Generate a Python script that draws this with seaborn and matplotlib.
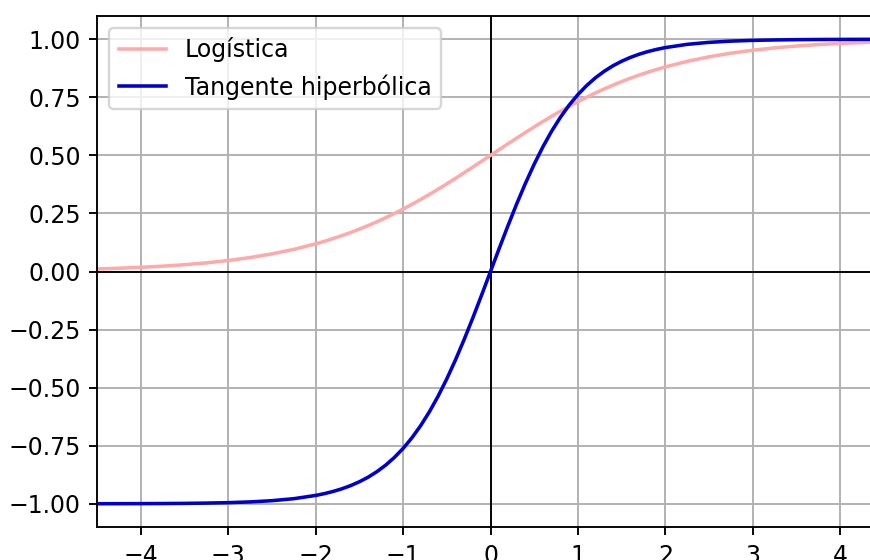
import matplotlib
matplotlib.use("Agg")
import matplotlib.pyplot as plt
import seaborn as sns
import pandas as pd

x_values = [-4.5, -4.25, -4.0, -3.75, -3.5, -3.25, -3.0, -2.75, -2.5, -2.25,
            -2.0, -1.9, -1.8, -1.7, -1.6, -1.5, -1.4, -1.3, -1.2, -1.1,
            -1.0, -0.9, -0.8, -0.7, -0.6, -0.5, -0.4, -0.3, -0.2, -0.1,
            0.0, 0.1, 0.2, 0.3, 0.4, 0.5, 0.6, 0.7, 0.8, 0.9,
            1.0, 1.1, 1.2, 1.3, 1.4, 1.5, 1.6, 1.7, 1.8, 1.9,
            2.0, 2.25, 2.5, 2.75, 3.0, 3.25, 3.5, 3.75, 4.0, 4.25, 4.5]

logistica = [0.0110, 0.0141, 0.0180, 0.0230, 0.0293, 0.0373, 0.0474, 0.0601, 0.0759, 0.0953,
             0.1192, 0.1301, 0.1419, 0.1545, 0.1680, 0.1824, 0.1978, 0.2142, 0.2315, 0.2497,
             0.2689, 0.2891, 0.3100, 0.3318, 0.3543, 0.3775, 0.4013, 0.4256, 0.4502, 0.4750,
             0.5000, 0.5250, 0.5498, 0.5744, 0.5987, 0.6225, 0.6457, 0.6682, 0.6900, 0.7109,
             0.7311, 0.7503, 0.7685, 0.7858, 0.8022, 0.8176, 0.8320, 0.8455, 0.8581, 0.8699,
             0.8808, 0.9047, 0.9241, 0.9399, 0.9526, 0.9627, 0.9707, 0.9770, 0.9820, 0.9859, 0.9890]

tangente = [-0.9998, -0.9996, -0.9993, -0.9989, -0.9982, -0.9970, -0.9951, -0.9919, -0.9866, -0.9780,
            -0.9640, -0.9562, -0.9468, -0.9354, -0.9217, -0.9051, -0.8854, -0.8617, -0.8337, -0.8005,
            -0.7616, -0.7163, -0.6640, -0.6044, -0.5370, -0.4621, -0.3799, -0.2913, -0.1974, -0.0997,
            0.0000, 0.0997, 0.1974, 0.2913, 0.3799, 0.4621, 0.5370, 0.6044, 0.6640, 0.7163,
            0.7616, 0.8005, 0.8337, 0.8617, 0.8854, 0.9051, 0.9217, 0.9354, 0.9468, 0.9562,
            0.9640, 0.9780, 0.9866, 0.9919, 0.9951, 0.9970, 0.9982, 0.9989, 0.9993, 0.9996, 0.9998]

series_names = ["Logística", "Tangente hiperbólica"]
series_colors = ["#ffaaaa", "#0000cc"]
y_ticks = [-1.00, -0.75, -0.50, -0.25, 0.00, 0.25, 0.50, 0.75, 1.00]
x_ticks = [-4, -3, -2, -1, 0, 1, 2, 3, 4]

df = pd.DataFrame({
    "x": x_values * 2,
    "y": logistica + tangente,
    "serie": [series_names[0]] * len(x_values) + [series_names[1]] * len(x_values),
})

plt.rcParams['font.family'] = ['DejaVu Sans']
dpi = 170
fig = plt.figure(figsize=(871 / dpi, 560 / dpi), dpi=dpi)
ax = fig.add_axes([0.1117, 0.0589, 0.9029, 0.9125])

ax.grid(True, color="#b0b0b0", linewidth=0.8, zorder=0)
ax.set_axisbelow(True)
ax.axhline(0, color="black", linewidth=0.8)
ax.axvline(0, color="black", linewidth=0.8)

sns.lineplot(data=df, x="x", y="y", hue="serie", palette=series_colors,
             hue_order=series_names, sort=False, estimator=None, ax=ax, linewidth=1.5)

ax.set_xlim(-4.5, 4.5)
ax.set_ylim(-1.1, 1.1)
ax.set_xticks(x_ticks)
ax.set_yticks(y_ticks)
ax.set_yticklabels([f"{v:.2f}".replace("-", "\u2212") for v in y_ticks])
ax.set_xlabel("")
ax.set_ylabel("")
ax.legend(loc="upper left", title=None)

fig.savefig("out.png", dpi=dpi)
